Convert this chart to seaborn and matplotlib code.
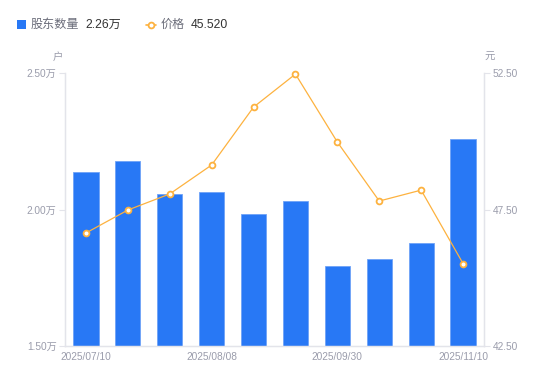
import matplotlib

matplotlib.use("Agg")
import matplotlib.pyplot as plt
import numpy as np
import pandas as pd
import seaborn as sns
from matplotlib.lines import Line2D
from matplotlib.patches import Rectangle

# data
dates = ["2025/07/10", "2025/07/20", "2025/07/31", "2025/08/08", "2025/08/20",
         "2025/08/31", "2025/09/30", "2025/10/20", "2025/10/31", "2025/11/10"]
holders = [2.137, 2.178, 2.057, 2.064, 1.984, 2.031, 1.793, 1.819, 1.877, 2.258]  # 万户
price = [46.64, 47.48, 48.07, 49.13, 51.25, 52.46, 49.97, 47.81, 48.21, 45.52]  # 元
shown_dates = ["2025/07/10", "2025/08/08", "2025/09/30", "2025/11/10"]
left_ticks = [1.5, 2.0, 2.5]
right_ticks = [42.5, 47.5, 52.5]

BLUE = "#2878F5"
ORANGE = "#FDB23F"
GRAY = "#9a9cab"
AXIS = "#e3e4ea"

sns.set_theme(style="white")
# latin glyphs in Liberation Sans, CJK glyphs fall back to Noto Sans CJK
plt.rcParams["font.family"] = ["Liberation Sans", "Noto Sans CJK SC", "DejaVu Sans"]

W, H = 550, 381
fig = plt.figure(figsize=(W / 100, H / 100), dpi=100)
L, R, T, B = 65, 484, 73, 346
ax = fig.add_axes([L / W, 1 - B / H, (R - L) / W, (B - T) / H])

df = pd.DataFrame({"date": dates, "holders": holders, "price": price})
sns.barplot(data=df, x="date", y="holders", order=dates, color=BLUE,
            saturation=1, width=0.6, edgecolor="#6fa3f7", linewidth=0.6, ax=ax)
ax.set_ylim(1.5, 2.5)
ax.set_xlim(-0.5, len(dates) - 0.5)

ax2 = ax.twinx()
sns.lineplot(x=np.arange(len(dates)), y=df["price"], color=ORANGE, linewidth=0.9,
             marker="o", markersize=4.2, markerfacecolor="white",
             markeredgecolor=ORANGE, markeredgewidth=1.3, clip_on=False, ax=ax2)
ax2.set_ylim(42.5, 52.5)
ax2.set_xlim(-0.5, len(dates) - 0.5)

ax.set_xticks([dates.index(d) for d in shown_dates])
ax.set_xticklabels(shown_dates)
ax.set_yticks(left_ticks)
ax.set_yticklabels([f"{v:.2f}万" for v in left_ticks])
ax2.set_yticks(right_ticks)
ax2.set_yticklabels([f"{v:.2f}" for v in right_ticks])

for a in (ax, ax2):
    a.set_xlabel("")
    a.set_ylabel("")
    a.spines["top"].set_visible(False)
    for s in ("left", "right", "bottom"):
        a.spines[s].set_color(AXIS)
        a.spines[s].set_linewidth(0.9)
    a.grid(False)
ax.tick_params(axis="x", length=0, pad=4, labelsize=7.3, labelcolor=GRAY)
ax.tick_params(axis="y", left=True, length=4, width=0.8, color=AXIS, pad=2,
               labelsize=7.3, labelcolor=GRAY)
ax2.tick_params(axis="y", right=True, length=4, width=0.8, color=AXIS, pad=2,
                labelsize=7.3, labelcolor=GRAY)

# axis unit labels
fig.text(58 / W, 1 - 57 / H, "户", fontsize=7.5, color=GRAY, ha="center", va="center")
fig.text(490 / W, 1 - 57 / H, "元", fontsize=7.5, color=GRAY, ha="center", va="center")

# legend drawn by hand (name + latest value)
ly = 1 - 24.5 / H
fig.add_artist(Rectangle((17 / W, 1 - 29 / H), 9 / W, 8.5 / H,
                         transform=fig.transFigure, color=BLUE, lw=0))
fig.text(31 / W, ly, "股东数量", fontsize=8.7, color="#6b6d7a", va="center")
fig.text(85 / W, ly, f"{holders[-1]:.2f}万", fontsize=8.7, color="#333333", va="center")
fig.add_artist(Line2D([146 / W, 156 / W], [ly, ly], transform=fig.transFigure,
                      color=ORANGE, lw=1.2))
fig.add_artist(Line2D([151 / W], [ly], transform=fig.transFigure, marker="o",
                      markersize=4.2, markerfacecolor="white", markeredgecolor=ORANGE,
                      markeredgewidth=1.3))
fig.text(161 / W, ly, "价格", fontsize=8.7, color="#6b6d7a", va="center")
fig.text(191 / W, ly, f"{price[-1]:.3f}", fontsize=8.7, color="#333333", va="center")

fig.savefig("out.png", dpi=100)
